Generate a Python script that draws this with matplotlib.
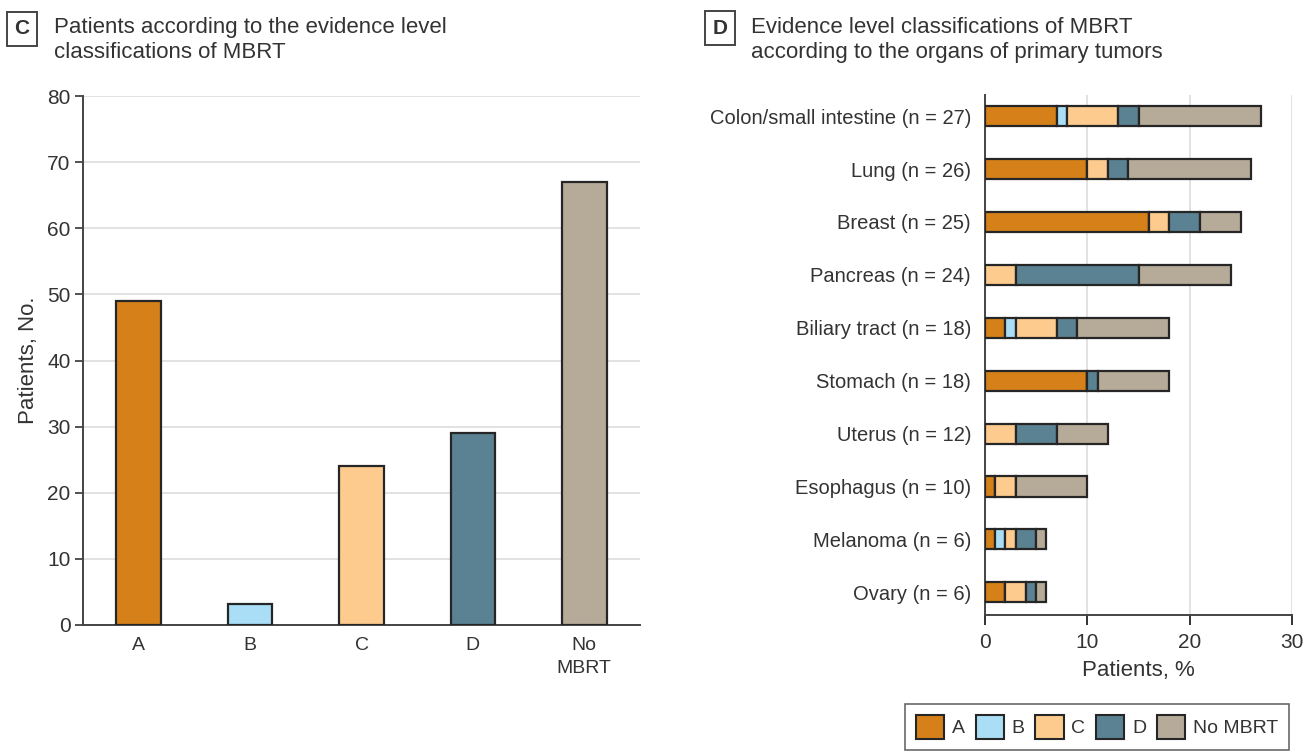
import matplotlib
matplotlib.use("Agg")
import matplotlib.pyplot as plt
from matplotlib.patches import Patch

plt.rcParams['font.family'] = ['Liberation Sans', 'DejaVu Sans']

TXT = '#333333'

# Panel C data
levels = ['A', 'B', 'C', 'D', 'No\nMBRT']
level_counts = [49, 3.2, 24, 29, 67]

# Panel D data
organs = ['Colon/small intestine (n = 27)', 'Lung (n = 26)', 'Breast (n = 25)',
          'Pancreas (n = 24)', 'Biliary tract (n = 18)', 'Stomach (n = 18)',
          'Uterus (n = 12)', 'Esophagus (n = 10)', 'Melanoma (n = 6)', 'Ovary (n = 6)']
seg_A = [7, 10, 16, 0, 2, 10, 0, 1, 1, 2]
seg_B = [1, 0, 0, 0, 1, 0, 0, 0, 1, 0]
seg_C = [5, 2, 2, 3, 4, 0, 3, 2, 1, 2]
seg_D = [2, 2, 3, 12, 2, 1, 4, 0, 2, 1]
seg_N = [12, 12, 4, 9, 9, 7, 5, 7, 1, 1]

series_names = ['A', 'B', 'C', 'D', 'No MBRT']
colors = ['#D6801A', '#A9DEF6', '#FDCB8D', '#5A8292', '#B6AA98']
EDGE = '#262626'

fig = plt.figure(figsize=(13.06, 7.56), dpi=100)

# ---- Panel C ----
axc = fig.add_axes([83/1306, 1-625/756, (640-83)/1306, (625-96)/756])
xs = range(len(levels))
axc.bar(xs, level_counts, width=0.4, color=colors, edgecolor=EDGE, linewidth=1.6, zorder=3)
axc.set_xlim(-0.5, 4.5)
axc.set_ylim(0, 80)
axc.set_yticks(range(0, 81, 10))
axc.set_xticks(list(xs))
axc.set_xticklabels(levels, fontsize=14, color=TXT, linespacing=1.4)
axc.tick_params(axis='y', labelsize=15, colors=TXT, length=6, width=1.2, direction='out', pad=3)
axc.tick_params(axis='x', length=0, pad=9)
axc.yaxis.grid(True, color='#dddddd', linewidth=1.2, zorder=0)
for s in ['top', 'right']:
    axc.spines[s].set_visible(False)
for s in ['left', 'bottom']:
    axc.spines[s].set_color('#444444')
    axc.spines[s].set_linewidth(1.4)
axc.set_ylabel('Patients, No.', fontsize=16, color=TXT, labelpad=6)

# ---- Panel D ----
axd = fig.add_axes([985/1306, 1-615/756, (1292-985)/1306, (615-95)/756])
ys = list(range(len(organs)))
left = [0]*len(organs)
for name, vals, col in zip(series_names, [seg_A, seg_B, seg_C, seg_D, seg_N], colors):
    axd.barh(ys, vals, left=left, height=0.38, color=col, edgecolor=EDGE,
             linewidth=1.6, zorder=3, label=name)
    left = [l + v for l, v in zip(left, vals)]
axd.set_xlim(0, 30)
axd.set_ylim(9.43, -0.4)
axd.set_xticks([0, 10, 20, 30])
axd.set_yticks(ys)
axd.set_yticklabels(organs, fontsize=14.5, color=TXT)
axd.tick_params(axis='y', length=0, pad=10)
axd.tick_params(axis='x', labelsize=15, colors=TXT, length=7, width=1.4, pad=6)
axd.xaxis.grid(True, color='#dddddd', linewidth=1.2, zorder=0)
for s in ['top', 'right']:
    axd.spines[s].set_visible(False)
for s in ['left', 'bottom']:
    axd.spines[s].set_color('#444444')
    axd.spines[s].set_linewidth(1.4)
axd.set_xlabel('Patients, %', fontsize=16, color=TXT, labelpad=6)

handles = [Patch(facecolor=c, edgecolor=EDGE, linewidth=1.5, label=n)
           for n, c in zip(series_names, colors)]
leg = fig.legend(handles=handles, loc='center', bbox_to_anchor=(1097/1306, 1-727/756),
                 ncol=5, frameon=True, fontsize=14, handlelength=1.45, handleheight=1.5,
                 handletextpad=0.4, columnspacing=0.55, borderpad=0.55, borderaxespad=0,
                 fancybox=False, labelcolor=TXT)
leg.get_frame().set_edgecolor('#444444')
leg.get_frame().set_linewidth(1.2)

# Titles with boxed letters
def panel_title(xbox, ybox, letter, xt, lines):
    fig.text(xbox/1306, 1-ybox/756, letter, fontsize=15, fontweight='bold', color=TXT,
             ha='center', va='center',
             bbox=dict(boxstyle='square,pad=0.38', facecolor='white', edgecolor='#444444', linewidth=1.4))
    fig.text(xt/1306, 1-17/756, lines, fontsize=16, color=TXT, ha='left', va='top', linespacing=1.25)

panel_title(22, 29, 'C', 54, 'Patients according to the evidence level\nclassifications of MBRT')
panel_title(720, 28, 'D', 751, 'Evidence level classifications of MBRT\naccording to the organs of primary tumors')

fig.savefig('out.png', dpi=100, facecolor='white')
